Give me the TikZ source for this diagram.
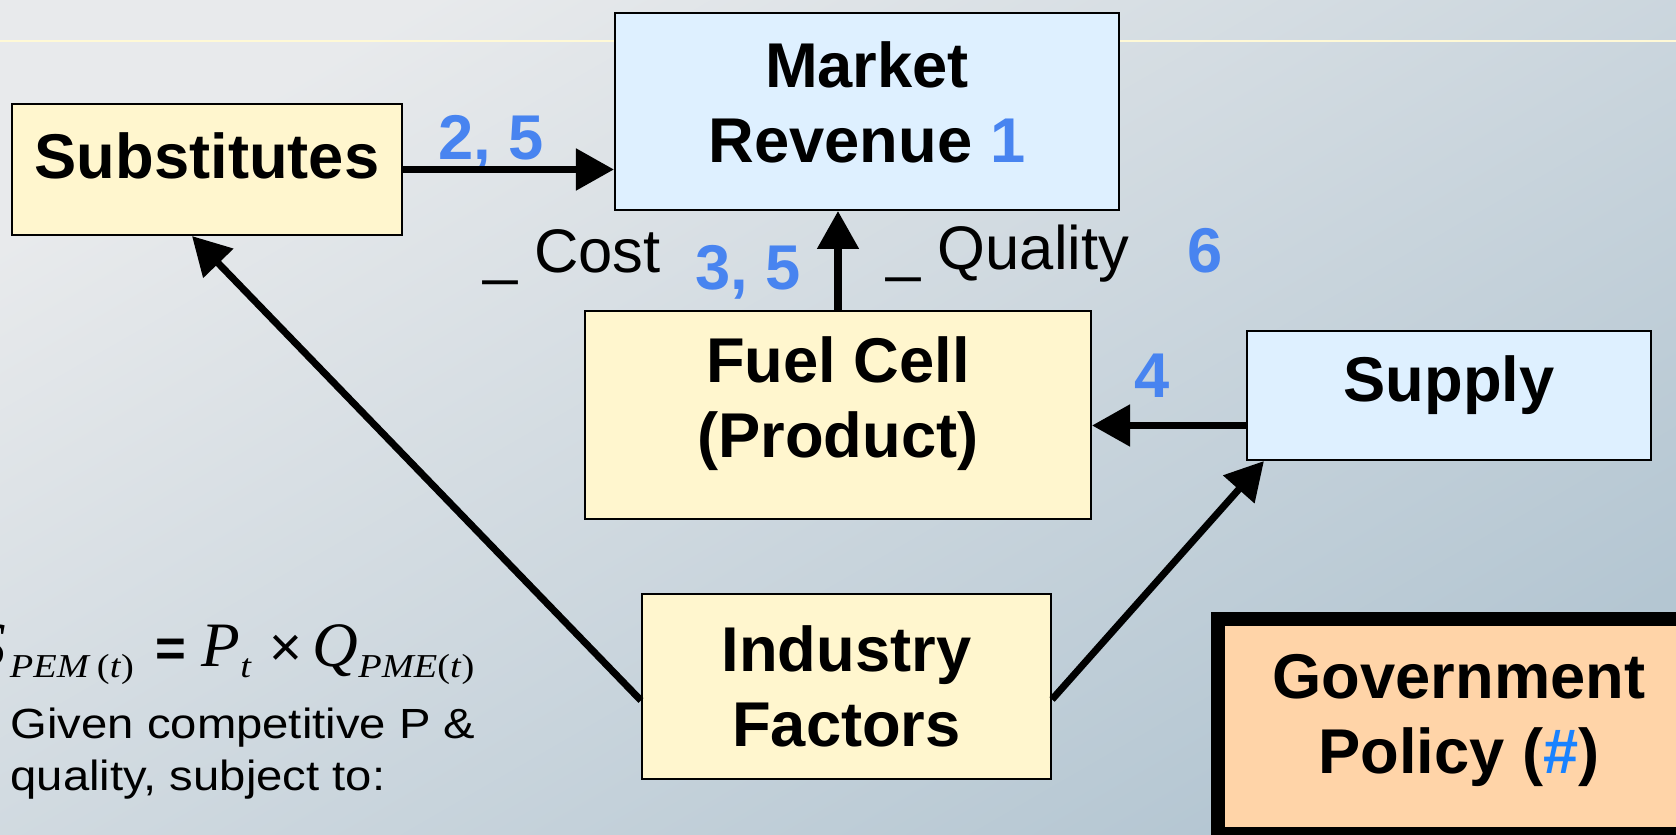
\documentclass[tikz,border=0pt]{standalone}
\usepackage{fontspec}
\setmainfont{Liberation Sans}
\newfontfamily\timesfont{Liberation Serif}
\newfontfamily\givenfont{Liberation Sans}[FakeStretch=1.12]
\usetikzlibrary{arrows.meta}

\definecolor{boxyellow}{RGB}{255,246,206}
\definecolor{boxblue}{RGB}{222,240,255}
\definecolor{boxpeach}{RGB}{255,212,168}
\definecolor{numblue}{RGB}{72,132,240}
\definecolor{hashblue}{RGB}{25,130,255}
\definecolor{bgtop}{RGB}{232,234,236}
\definecolor{bgbottom}{RGB}{180,198,210}
\definecolor{paleline}{RGB}{255,249,214}

\newcommand{\fsub}[1]{\raisebox{-3.1pt}{\scalebox{1.15}[1]{\fontsize{9.5}{11}\selectfont #1}}}
\newcommand{\fop}[1]{{\rmfamily\fontsize{15}{16}\selectfont #1}}

\begin{document}
\begin{tikzpicture}[
    box/.style={rectangle,draw=black,line width=0.6pt,align=center,
                font=\fontsize{18}{21.3}\selectfont\bfseries},
    yellowbox/.style={box,fill=boxyellow},
    bluebox/.style={box,fill=boxblue},
    num/.style={text=numblue,font=\fontsize{18}{21}\selectfont\bfseries,
                anchor=base,inner sep=0pt},
    lbl/.style={font=\fontsize{17.5}{21}\selectfont,anchor=base,inner sep=0pt}]

\useasboundingbox (0,0) rectangle (16.76,8.35);
\shade[top color=bgtop,bottom color=bgbottom,shading angle=30] (0,0) rectangle (16.76,8.35);
\draw[paleline,line width=0.4pt] (0,7.94) -- (16.76,7.94);

% boxes
\node[yellowbox,minimum width=3.90cm,minimum height=1.31cm,text depth=0.28cm] (sub) at (2.07,6.655) {Substitutes};
\node[bluebox,minimum width=5.04cm,minimum height=1.97cm,text depth=0.18cm] (market) at (8.67,7.235) {Market\\Revenue \textcolor{numblue}{1}};
\node[yellowbox,minimum width=5.06cm,minimum height=2.08cm,text depth=0.35cm] (fuel) at (8.38,4.20) {Fuel Cell\\(Product)};
\node[bluebox,minimum width=4.04cm,minimum height=1.29cm,text depth=0.33cm] (supply) at (14.49,4.395) {Supply};
\node[yellowbox,minimum width=4.09cm,minimum height=1.85cm] (ind) at (8.465,1.485) {Industry\\Factors};
\node[box,fill=boxpeach,line width=4pt,minimum width=4.82cm,minimum height=2.15cm,text depth=0.26cm] (gov) at (14.59,1.085) {Government\\Policy (\textcolor{hashblue}{\#})};

% labels
\node[num] (n25) at (4.91,6.75) {2, 5};
\node[lbl] (cost) at (5.72,5.62) {\_ Cost};
\node[num] (n35) at (7.48,5.45) {3, 5};
\node[lbl] (quality) at (10.08,5.65) {\_ Quality};
\node[num] (n6) at (12.05,5.62) {6};
\node[num] (n4) at (11.52,4.37) {4};

\node[anchor=base east,inner sep=0pt] (formula) at (4.75,1.68)
  {\timesfont\fontsize{18}{22}\selectfont
   \textit{S}\hspace{1pt}\fsub{\textit{PEM}\,(\textit{t})}\hspace{6pt}\fop{\bfseries =}\hspace{4.5pt}\textit{P}\fsub{\textit{t}}\hspace{5pt}\fop{\fontsize{16}{17}\selectfont\texttimes}\hspace{3pt}\textit{Q}\fsub{\textit{PME}(\textit{t})}};
\node[anchor=north west,inner sep=0pt,align=left,font=\givenfont\fontsize{12}{14.8}\selectfont] (given) at (0.10,1.28)
  {Given competitive P \&\\quality, subject to:};

% arrows
\begin{scope}[>={Triangle[length=10.8pt,width=11.5pt]},
              every edge/.style={draw=black,line width=2pt}]
    \path [->] (sub.east) edge (sub.east -| market.west);
    \path [->] (fuel.north) edge (fuel.north |- market.south);
    \path [->] ([yshift=-0.3cm]supply.west) edge ([yshift=-0.3cm]supply.west -| fuel.east);
    \path [->] ([yshift=-0.14cm]ind.west) edge ([xshift=-0.15cm]sub.south);
    \path [->] ([yshift=-0.13cm]ind.east) edge ([xshift=0.18cm]supply.south west);
\end{scope}
\end{tikzpicture}
\end{document}
